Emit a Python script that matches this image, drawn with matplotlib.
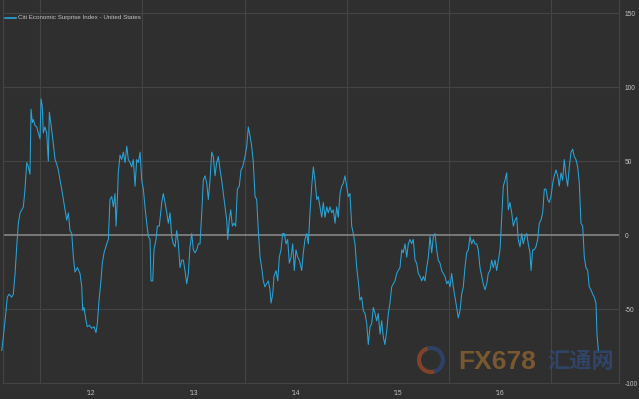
import matplotlib
matplotlib.use("Agg")
import matplotlib.pyplot as plt
from matplotlib.lines import Line2D
from matplotlib.patches import Arc
import numpy as np

# ---- data: Citi Economic Surprise Index - United States (decimal year, index value) ----
dates = [
    2011.626, 2011.641, 2011.658, 2011.668, 2011.680, 2011.697, 2011.723, 2011.739, 2011.756, 2011.772,
    2011.788, 2011.805, 2011.821, 2011.837, 2011.853, 2011.870, 2011.886, 2011.902, 2011.912, 2011.925,
    2011.935, 2011.951, 2011.968, 2011.983, 2012.000, 2012.010, 2012.022, 2012.032, 2012.049, 2012.065,
    2012.081, 2012.091, 2012.105, 2012.124, 2012.147, 2012.163, 2012.179, 2012.196, 2012.212, 2012.228,
    2012.244, 2012.261, 2012.277, 2012.293, 2012.310, 2012.326, 2012.342, 2012.365, 2012.391, 2012.408,
    2012.417, 2012.430, 2012.450, 2012.462, 2012.482, 2012.505, 2012.528, 2012.547, 2012.560, 2012.577,
    2012.593, 2012.609, 2012.626, 2012.635, 2012.652, 2012.668, 2012.684, 2012.701, 2012.717, 2012.733,
    2012.743, 2012.756, 2012.765, 2012.782, 2012.799, 2012.814, 2012.831, 2012.848, 2012.863, 2012.880,
    2012.896, 2012.912, 2012.929, 2012.945, 2012.961, 2012.978, 2012.994, 2013.010, 2013.026, 2013.043,
    2013.059, 2013.075, 2013.085, 2013.102, 2013.114, 2013.134, 2013.147, 2013.166, 2013.190, 2013.205,
    2013.222, 2013.239, 2013.254, 2013.271, 2013.287, 2013.303, 2013.320, 2013.336, 2013.352, 2013.369,
    2013.385, 2013.401, 2013.417, 2013.434, 2013.450, 2013.466, 2013.483, 2013.499, 2013.515, 2013.532,
    2013.547, 2013.564, 2013.581, 2013.596, 2013.613, 2013.630, 2013.645, 2013.662, 2013.678, 2013.694,
    2013.711, 2013.727, 2013.743, 2013.760, 2013.776, 2013.792, 2013.808, 2013.825, 2013.835, 2013.850,
    2013.864, 2013.880, 2013.896, 2013.913, 2013.929, 2013.948, 2013.965, 2013.981, 2014.004, 2014.021,
    2014.036, 2014.053, 2014.069, 2014.085, 2014.102, 2014.118, 2014.134, 2014.151, 2014.167, 2014.183,
    2014.199, 2014.216, 2014.232, 2014.248, 2014.258, 2014.275, 2014.287, 2014.307, 2014.324, 2014.339,
    2014.356, 2014.372, 2014.388, 2014.405, 2014.421, 2014.437, 2014.454, 2014.470, 2014.486, 2014.502,
    2014.519, 2014.535, 2014.558, 2014.574, 2014.590, 2014.607, 2014.623, 2014.639, 2014.656, 2014.672,
    2014.688, 2014.705, 2014.720, 2014.737, 2014.754, 2014.769, 2014.786, 2014.803, 2014.818, 2014.835,
    2014.851, 2014.867, 2014.884, 2014.900, 2014.916, 2014.933, 2014.949, 2014.965, 2014.981, 2014.998,
    2015.014, 2015.030, 2015.047, 2015.063, 2015.079, 2015.096, 2015.111, 2015.128, 2015.145, 2015.160,
    2015.177, 2015.194, 2015.209, 2015.226, 2015.242, 2015.258, 2015.275, 2015.291, 2015.307, 2015.324,
    2015.340, 2015.356, 2015.372, 2015.389, 2015.405, 2015.421, 2015.438, 2015.454, 2015.470, 2015.487,
    2015.502, 2015.519, 2015.536, 2015.551, 2015.568, 2015.585, 2015.600, 2015.617, 2015.633, 2015.649,
    2015.666, 2015.682, 2015.698, 2015.715, 2015.731, 2015.747, 2015.763, 2015.780, 2015.796, 2015.812,
    2015.829, 2015.845, 2015.861, 2015.878, 2015.893, 2015.910, 2015.927, 2015.942, 2015.959, 2015.976,
    2015.991, 2016.008, 2016.024, 2016.040, 2016.057, 2016.073, 2016.089, 2016.106, 2016.122, 2016.138,
    2016.154, 2016.171, 2016.187, 2016.203, 2016.220, 2016.236, 2016.252, 2016.269, 2016.284, 2016.301,
    2016.318, 2016.333, 2016.350, 2016.367, 2016.382, 2016.399, 2016.415, 2016.431, 2016.448, 2016.464,
    2016.480, 2016.497, 2016.513, 2016.529, 2016.545, 2016.562, 2016.578, 2016.594, 2016.611, 2016.627,
    2016.643, 2016.660, 2016.675, 2016.692, 2016.709, 2016.724, 2016.741, 2016.758, 2016.773, 2016.790,
    2016.800, 2016.816, 2016.832, 2016.848, 2016.865, 2016.881, 2016.897, 2016.914, 2016.930, 2016.946,
    2016.963, 2016.978, 2016.995, 2017.012, 2017.027, 2017.044, 2017.061, 2017.076, 2017.093, 2017.109,
    2017.125, 2017.142, 2017.158, 2017.174, 2017.191, 2017.207, 2017.223, 2017.239, 2017.256, 2017.272,
    2017.288, 2017.305, 2017.321, 2017.337, 2017.354, 2017.369, 2017.386, 2017.403, 2017.418, 2017.435,
    2017.445, 2017.458,
]
values = [
    -78, -69, -58, -51, -42, -40, -42, -40, -26, -8,
    8, 15, 17, 19, 31, 49, 46, 41, 85, 76,
    78, 74, 73, 69, 65, 92, 87, 69, 73, 69,
    50, 83, 76, 65, 51, 48, 44, 37, 31, 24,
    17, 10, 15, 3, 1, -15, -25, -22, -26, -35,
    -51, -49, -58, -62, -61, -63, -62, -66, -60, -44,
    -33, -19, -12, -10, -6, -3, 24, 26, 19, 28,
    6, 24, 42, 54, 51, 56, 49, 60, 51, 49,
    46, 51, 33, 51, 49, 56, 37, 31, 19, 8,
    -1, -3, -31, -31, -10, -3, 6, 6, 22, 28,
    22, 15, 8, 15, -1, -6, -8, 3, -6, -22,
    -17, -17, -24, -33, -26, -8, 1, -10, -12, -10,
    -6, -6, 15, 37, 40, 35, 24, 37, 56, 53,
    40, 49, 53, 44, 37, 28, 19, 10, -3, 10,
    17, 6, 8, 6, 31, 33, 44, 46, 53, 60,
    73, 67, 60, 49, 26, 24, 3, -15, -22, -31,
    -35, -33, -31, -37, -46, -40, -28, -24, -31, -15,
    -10, 1, 1, -6, -3, -19, -15, -6, -24, -10,
    -15, -17, -24, -12, -3, 1, -6, 15, 33, 46,
    37, 24, 26, 19, 12, 22, 12, 19, 15, 19,
    15, 17, 8, 19, 12, 28, 33, 35, 40, 33,
    26, 28, 6, 1, -6, -22, -31, -44, -42, -51,
    -53, -60, -74, -62, -60, -49, -53, -58, -53, -67,
    -58, -69, -74, -65, -53, -46, -35, -33, -31, -26,
    -24, -22, -10, -12, -6, -15, -6, -3, -6, -3,
    -17, -19, -26, -28, -31, -28, -31, -22, -15, -1,
    -12, -1, 1, -10, -17, -19, -24, -26, -28, -33,
    -31, -35, -26, -35, -42, -49, -56, -51, -40, -35,
    -22, -12, -10, -1, -6, -3, -6, -6, -10, -22,
    -28, -33, -37, -33, -26, -24, -17, -22, -17, -24,
    -17, -10, 12, 33, 37, 42, 17, 22, 15, 6,
    10, 12, -3, -8, 1, -6, -1, 1, -6, -12,
    -24, -10, -10, -8, -3, 8, 10, 15, 31, 31,
    24, 22, 26, 35, 40, 44, 40, 33, 42, 37,
    51, 40, 33, 46, 56, 58, 53, 51, 46, 35,
    8, 6, -15, -22, -24, -35, -37, -40, -42, -46,
    -67, -78,
]
series_label = "Citi Economic Surprise Index - United States"
year_starts = [2012, 2013, 2014, 2015, 2016, 2017]
year_label_pos = [2012.5, 2013.5, 2014.5, 2015.5, 2016.5]
year_labels = ["'12", "'13", "'14", "'15", "'16"]
y_ticks = [-100, -50, 0, 50, 100, 150]
y_labels = ["-100", "-50", "0", "50", "100", "150"]

BG = "#2f2f2f"
GRID = "#444444"
LINE = "#2aa3d6"
TXT = "#c4c4c4"

W, H = 639, 399
fig = plt.figure(figsize=(W / 100, H / 100), dpi=100, facecolor=BG)
ax = fig.add_axes([3 / W, 16 / H, 616 / W, 383 / H])
ax.set_facecolor(BG)

ax.set_xlim(2011.638, 2017.660)
ax.set_ylim(-100, 158.8)

ax.plot(dates, values, color=LINE, lw=0.75, zorder=3, clip_on=False)
ax.axhline(0, color="#8c8c8c", lw=1.1, zorder=2)

for y in y_ticks:
    if y not in (0, -100):
        ax.axhline(y, color=GRID, lw=0.8, zorder=1)
for x in year_starts:
    ax.axvline(x, color=GRID, lw=0.8, zorder=1)

ax.spines["top"].set_visible(False)
for side in ("left", "right", "bottom"):
    ax.spines[side].set_color(GRID)
    ax.spines[side].set_linewidth(0.8)

ax.yaxis.tick_right()
ax.set_yticks(y_ticks)
ax.set_yticklabels(y_labels, fontsize=4.8, color=TXT, family="Liberation Sans")
ax.tick_params(axis="y", length=0, pad=4)
ax.set_xticks(year_label_pos)
ax.set_xticklabels(year_labels, fontsize=4.8, color=TXT, family="Liberation Sans")
ax.tick_params(axis="x", length=0, pad=5)

# legend
fig.add_artist(Line2D([5 / W, 16 / W], [1 - 18 / H, 1 - 18 / H], color=LINE, lw=1.2))
fig.text(18 / W, 1 - 18 / H, series_label, fontsize=4.5, color=TXT,
         family="Liberation Sans", va="center", ha="left")

# watermark
fig.add_artist(Arc((431 / W, 1 - 360 / H), 24 / W, 24 / H, theta1=100, theta2=280,
                   color="#b8502a", lw=3, alpha=0.6))
fig.add_artist(Arc((431 / W, 1 - 360 / H), 24 / W, 24 / H, theta1=280, theta2=460,
                   color="#2c4f86", lw=3, alpha=0.6))
fig.text(458 / W, 1 - 362 / H, "FX678", fontsize=19, color="#9a6a30", alpha=0.7,
         family=["Liberation Sans Narrow", "Liberation Sans"], fontweight="bold",
         va="center", ha="left")
fig.text(547 / W, 1 - 362 / H, "汇通网", fontsize=16, color="#2f4d80", alpha=0.7,
         family=["Noto Sans CJK SC", "DejaVu Sans"], fontweight="bold",
         va="center", ha="left")

fig.savefig("out.png", dpi=100, facecolor=BG)
